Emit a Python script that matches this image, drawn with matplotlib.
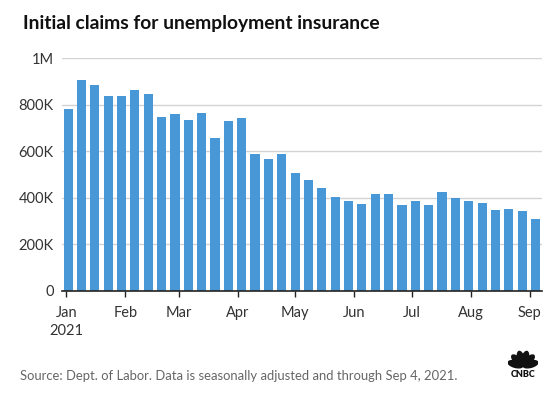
import numpy as np
import pandas as pd
import matplotlib
matplotlib.use("Agg")
import matplotlib.pyplot as plt
from matplotlib.patches import Ellipse

# weekly initial claims, weeks ending Jan 2 .. Sep 4, 2021
week_end = pd.date_range("2021-01-02", "2021-09-04", freq="7D")
claims = [782, 907, 885, 838, 838, 864, 847, 748, 761, 735, 765, 658,
          731, 744, 589, 567, 589, 507, 477, 443, 404, 387, 374, 417,
          417, 370, 387, 370, 426, 400, 387, 378, 348, 352, 344, 309]
claims = np.array(claims) * 1000

y_ticks = [0, 200000, 400000, 600000, 800000, 1000000]
y_labels = ["0", "200K", "400K", "600K", "800K", "1M"]
month_labels = ["Jan\n2021", "Feb", "Mar", "Apr", "May", "Jun", "Jul", "Aug", "Sep"]
month_ticks = pd.date_range("2021-01-01", "2021-09-01", freq="MS")

plt.rcParams["font.family"] = ["Lato", "DejaVu Sans"]

fig = plt.figure(figsize=(5.55, 3.99), dpi=100)
ax = fig.add_axes([62 / 555, 1 - 291 / 399, 480 / 555, 233 / 399])

ax.bar(week_end, claims, width=4.8, color="#4897d7", zorder=2)

ax.set_ylim(0, 1000000)
ax.set_xlim(week_end[0] - pd.Timedelta(days=3.2), week_end[-1] + pd.Timedelta(days=3.4))
ax.set_yticks(y_ticks)
ax.set_yticklabels(y_labels)
ax.set_xticks(month_ticks)
ax.set_xticklabels(month_labels, linespacing=1.35)
ax.yaxis.grid(True, color="#d3d3d3", linewidth=1, zorder=0)
ax.set_axisbelow(True)

for s in ["top", "right", "left"]:
    ax.spines[s].set_visible(False)
ax.spines["bottom"].set_color("#222222")
ax.spines["bottom"].set_linewidth(1.2)
ax.tick_params(axis="y", length=0, pad=6, labelsize=10.5, labelcolor="#333333")
ax.tick_params(axis="x", length=4, width=1, color="#222222", pad=7,
               labelsize=10.5, labelcolor="#333333")

fig.text(23 / 555, 1 - 23 / 399, "Initial claims for unemployment insurance",
         fontsize=13.9, fontweight="bold", color="#111111", va="center", ha="left")
fig.text(20 / 555, 1 - 376 / 399,
         "Source: Dept. of Labor. Data is seasonally adjusted and through Sep 4, 2021.",
         fontsize=9.35, color="#666666", va="center", ha="left")

# small peacock logo
logo = fig.add_axes([508 / 555, 1 - 379 / 399, 30 / 555, 30 / 399])
logo.set_xlim(-1, 1)
logo.set_ylim(-0.85, 1.15)
logo.axis("off")
for ang in np.linspace(15, 165, 6):
    r = np.deg2rad(ang)
    logo.add_patch(Ellipse((0.52 * np.cos(r), 0.0 + 0.52 * np.sin(r)), 0.42, 1.0,
                           angle=ang - 90, color="#111111"))
logo.text(0, -0.55, "CNBC", ha="center", va="center", fontsize=6.5,
          fontweight="heavy", color="#111111")

fig.savefig("out.png", dpi=100)
